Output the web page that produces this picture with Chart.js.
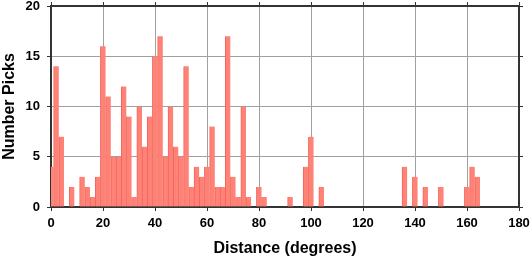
<!DOCTYPE html>
<html>
<head>
<meta charset="utf-8">
<script src="https://cdn.jsdelivr.net/npm/chart.js@4.4.1/dist/chart.umd.min.js"></script>
<style>
  html, body { margin: 0; padding: 0; background: #fff; }
  #wrap { width: 530px; height: 258px; }
</style>
</head>
<body>
<div id="wrap"><canvas id="picks"></canvas></div>
<script>
// histogram bins, 2 degrees wide, centred on even distances
const binCenters = [0, 2, 4, 6, 8, 10, 12, 14, 16, 18, 20, 22, 24, 26, 28, 30, 32, 34, 36, 38,
  40, 42, 44, 46, 48, 50, 52, 54, 56, 58, 60, 62, 64, 66, 68, 70, 72, 74, 76, 78,
  80, 82, 84, 86, 88, 90, 92, 94, 96, 98, 100, 102, 104, 106, 108, 110, 112, 114, 116, 118,
  120, 122, 124, 126, 128, 130, 132, 134, 136, 138, 140, 142, 144, 146, 148, 150, 152, 154, 156, 158,
  160, 162, 164, 166, 168, 170, 172, 174, 176, 178];
const pickCounts = [4, 14, 7, 0, 2, 0, 3, 2, 1, 3, 16, 11, 5, 5, 12, 9, 1, 10, 6, 9,
  15, 17, 5, 10, 6, 5, 14, 2, 4, 3, 4, 8, 2, 2, 17, 3, 1, 10, 1, 0,
  2, 1, 0, 0, 0, 0, 1, 0, 0, 4, 7, 0, 2, 0, 0, 0, 0, 0, 0, 0,
  0, 0, 0, 0, 0, 0, 0, 0, 4, 0, 3, 0, 2, 0, 0, 2, 0, 0, 0, 0,
  2, 4, 3, 0, 0, 0, 0, 0, 0, 0];
const xTicks = [0, 20, 40, 60, 80, 100, 120, 140, 160, 180];
const yTicks = [0, 5, 10, 15, 20];

const points = binCenters
  .map((d, i) => ({ x: d, y: pickCounts[i] }))
  .filter(p => p.y > 0);

const tickFont = { family: 'Liberation Sans, Arial, sans-serif', size: 13, weight: 'bold' };
const titleFont = { family: 'Liberation Sans, Arial, sans-serif', size: 16, weight: 'bold' };
const gridGray = '#a0a0a0';
const frame = { color: '#333', width: 2 };

// fixed axis boxes so the plot sits where the original does (no label overflow padding)
const fixW = w => ({ afterFit: s => { s.width = w; s.paddingTop = 0; s.paddingBottom = 0; } });
const fixH = h => ({ afterFit: s => { s.height = h; s.paddingLeft = 0; s.paddingRight = 0; } });

new Chart(document.getElementById('picks'), {
  type: 'bar',
  data: {
    datasets: [{
      data: points,
      backgroundColor: '#ff8276',
      borderColor: '#f2645a',
      borderWidth: { left: 1, right: 0, top: 0, bottom: 0 },
      barPercentage: 1,
      categoryPercentage: 1,
      grouped: false
    }]
  },
  options: {
    responsive: true,
    maintainAspectRatio: false,
    animation: false,
    layout: { padding: 0 },
    plugins: { legend: { display: false }, tooltip: { enabled: false } },
    scales: {
      x: {
        type: 'linear', position: 'bottom', min: 0, max: 180, offset: false,
        afterBuildTicks: s => { s.ticks = xTicks.map(v => ({ value: v })); },
        ticks: { font: tickFont, color: '#000', padding: 5, maxRotation: 0 },
        grid: { color: gridGray, tickLength: 4, tickColor: '#333', offset: false },
        border: frame,
        title: { display: true, text: 'Distance (degrees)', font: titleFont, color: '#000', padding: { top: 5, bottom: 0 } },
        ...fixH(51)
      },
      y: {
        position: 'left', min: 0, max: 20,
        afterBuildTicks: s => { s.ticks = yTicks.map(v => ({ value: v })); },
        ticks: { font: tickFont, color: '#000', padding: 7 },
        grid: { color: gridGray, tickLength: 4, tickColor: '#333' },
        border: frame,
        title: { display: true, text: 'Number Picks', font: titleFont, color: '#000', padding: { top: 0, bottom: 4 } },
        ...fixW(51)
      },
      x2: {
        type: 'linear', position: 'top', min: 0, max: 180, offset: false,
        afterBuildTicks: s => { s.ticks = xTicks.map(v => ({ value: v })); },
        ticks: { display: true, color: 'rgba(0,0,0,0)', font: { size: 1 }, padding: 0 },
        grid: { drawOnChartArea: false, tickLength: 4, tickColor: '#333', offset: false },
        border: frame,
        ...fixH(6)
      },
      y2: {
        position: 'right', min: 0, max: 20,
        afterBuildTicks: s => { s.ticks = yTicks.map(v => ({ value: v })); },
        ticks: { display: true, color: 'rgba(0,0,0,0)', font: { size: 1 }, padding: 0 },
        grid: { drawOnChartArea: false, tickLength: 4, tickColor: '#333' },
        border: frame,
        ...fixW(11)
      }
    }
  }
});
</script>
</body>
</html>
